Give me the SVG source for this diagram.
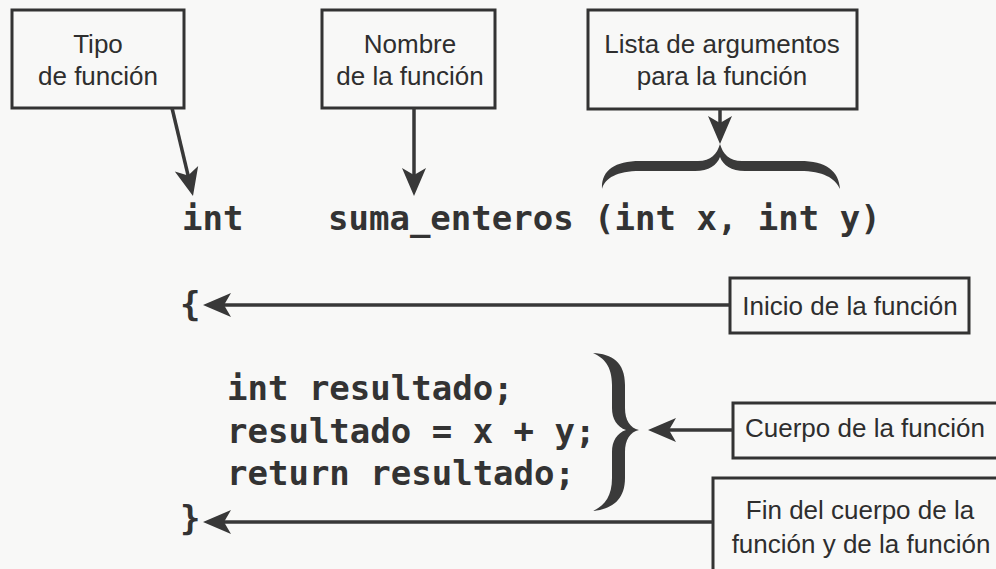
<svg xmlns="http://www.w3.org/2000/svg" width="996" height="569" viewBox="0 0 996 569">
  <style>
    .box { fill: none; stroke: #333; stroke-width: 3; }
    .lbl { font-family: "Liberation Sans", Arial, sans-serif; font-size: 26px; fill: #2e2e2e; text-anchor: middle; }
    .code { font-family: "DejaVu Sans Mono", "Liberation Mono", monospace; font-weight: bold; font-size: 34px; fill: #333; }
    .conn { stroke: #383838; stroke-width: 3.5; fill: none; marker-end: url(#ah); }
    .brace { fill: #3a3a3a; }
  </style>
  <defs>
    <marker id="ah" viewBox="-30 -13 32 26" refX="-6" refY="0" markerWidth="32" markerHeight="26" markerUnits="userSpaceOnUse" orient="auto">
      <path d="M0,0 L-28,-12 L-21,0 L-28,12 Z" fill="#383838"/>
    </marker>
  </defs>
  <rect x="0" y="0" width="996" height="569" fill="#f8f8f7"/>

  <g id="node-tipo">
    <rect class="box" x="12" y="10" width="172" height="98"/>
    <text class="lbl" x="98" y="53">Tipo</text>
    <text class="lbl" x="98" y="85">de función</text>
  </g>
  <g id="node-nombre">
    <rect class="box" x="322" y="10" width="173" height="98"/>
    <text class="lbl" x="410" y="53">Nombre</text>
    <text class="lbl" x="410" y="85">de la función</text>
  </g>
  <g id="node-lista">
    <rect class="box" x="588" y="10" width="269" height="99"/>
    <text class="lbl" x="722" y="53">Lista de argumentos</text>
    <text class="lbl" x="722" y="85">para la función</text>
  </g>
  <g id="node-inicio">
    <rect class="box" x="730" y="278" width="239" height="55"/>
    <text class="lbl" x="850" y="315">Inicio de la función</text>
  </g>
  <g id="node-cuerpo">
    <rect class="box" x="733" y="403" width="275" height="55"/>
    <text class="lbl" x="865" y="437">Cuerpo de la función</text>
  </g>
  <g id="node-fin">
    <rect class="box" x="713" y="478" width="300" height="110"/>
    <text class="lbl" x="860" y="519">Fin del cuerpo de la</text>
    <text class="lbl" x="861" y="553">función y de la función</text>
  </g>

  <g id="code">
    <text class="code" x="182" y="230">int</text>
    <text class="code" x="328" y="230" xml:space="preserve">suma_enteros (int x, int y)</text>
    <text class="code" x="180" y="316">{</text>
    <text class="code" x="227" y="400">int resultado;</text>
    <text class="code" x="227" y="443">resultado = x + y;</text>
    <text class="code" x="227" y="485">return resultado;</text>
    <text class="code" x="180" y="530">}</text>
  </g>

  <g id="braces">
    <path class="brace" d="M602,189 C601,171 614,161 640,161 L698,161 C711,161 717,154 720,144 C723,154 729,161 742,161 L800,161 C826,161 839,171 840,189 C835,178 823,171 800,171 L745,171 C731,171 723,165 720,157 C717,165 709,171 695,171 L640,171 C617,171 605,178 602,189 Z"/>
    <path class="brace" d="M593,353 C612,354 625,362 625,385 L625,408 C625,420 630,428 639,430 C630,432 625,440 625,452 L625,478 C625,500 612,509 593,511 C604,506 612,497 612,478 L612,452 C612,441 617,433 626,430 C617,427 612,419 612,408 L612,385 C612,366 604,358 593,353 Z"/>
  </g>

  <g id="connectors">
    <line class="conn" x1="172" y1="108" x2="191.6" y2="190.2"/>
    <line class="conn" x1="414" y1="108" x2="414" y2="190"/>
    <line class="conn" x1="720" y1="109" x2="720" y2="138"/>
    <line class="conn" x1="730" y1="305" x2="209" y2="305"/>
    <line class="conn" x1="733" y1="430" x2="654" y2="430"/>
    <line class="conn" x1="713" y1="522" x2="209" y2="522"/>
  </g>
</svg>
